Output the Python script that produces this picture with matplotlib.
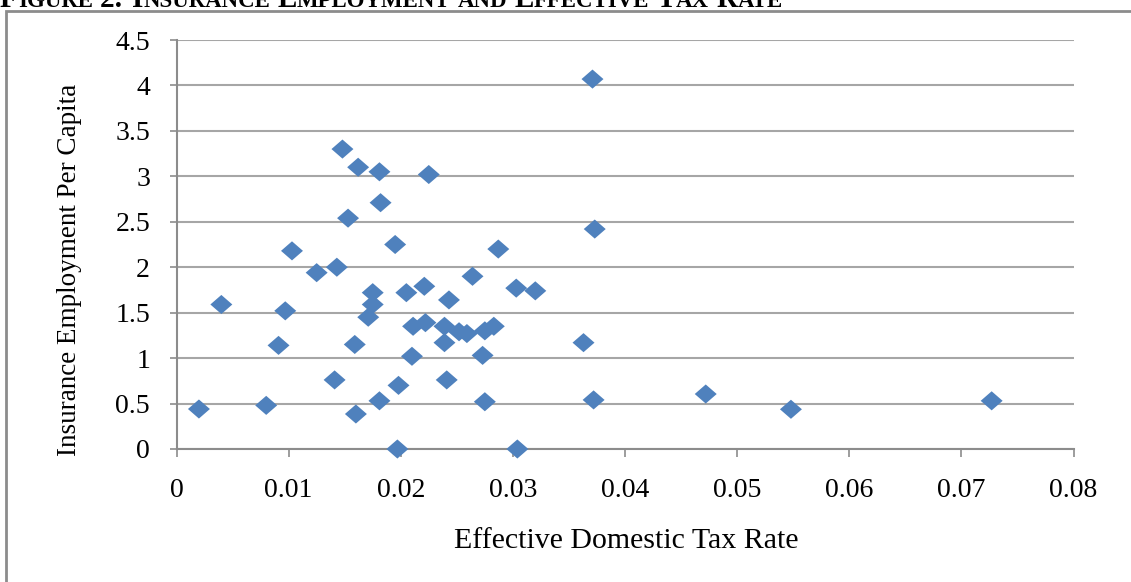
import matplotlib
matplotlib.use("Agg")
import matplotlib.pyplot as plt
from matplotlib.patches import Rectangle

# Data
tax_rate = [0.0020, 0.0040, 0.0080, 0.0091, 0.0097, 0.0103, 0.0125, 0.0143, 0.0141, 0.0148,
            0.0153, 0.0162, 0.0159, 0.0160, 0.0171, 0.0175, 0.0175, 0.0181, 0.0182, 0.0181,
            0.0195, 0.0198, 0.0197, 0.0205, 0.0210, 0.0211, 0.0221, 0.0222, 0.0225, 0.0243,
            0.0239, 0.0239, 0.0241, 0.0252, 0.0259, 0.0264, 0.0273, 0.0275, 0.0275, 0.0283,
            0.0287, 0.0303, 0.0304, 0.0320, 0.0363, 0.0371, 0.0373, 0.0372, 0.0472, 0.0548,
            0.0727]
employment = [0.44, 1.59, 0.48, 1.14, 1.52, 2.18, 1.94, 2.00, 0.76, 3.30,
              2.54, 3.10, 1.15, 0.385, 1.45, 1.59, 1.72, 3.05, 2.71, 0.53,
              2.25, 0.70, 0.00, 1.72, 1.02, 1.35, 1.79, 1.39, 3.02, 1.64,
              1.35, 1.17, 0.76, 1.29, 1.27, 1.90, 1.03, 1.30, 0.52, 1.35,
              2.20, 1.77, 0.00, 1.74, 1.17, 4.07, 2.42, 0.54, 0.605, 0.437,
              0.53]

x_ticks = [0, 0.01, 0.02, 0.03, 0.04, 0.05, 0.06, 0.07, 0.08]
x_tick_labels = ["0", "0.01", "0.02", "0.03", "0.04", "0.05", "0.06", "0.07", "0.08"]
y_ticks = [0, 0.5, 1, 1.5, 2, 2.5, 3, 3.5, 4, 4.5]
y_tick_labels = ["0", "0.5", "1", "1.5", "2", "2.5", "3", "3.5", "4", "4.5"]

title = "Figure 2: Insurance Employment and Effective Tax Rate"
x_label = "Effective Domestic Tax Rate"
y_label = "Insurance Employment Per Capita"

W, H = 1131, 582
fig = plt.figure(figsize=(W / 100, H / 100), dpi=100)
serif = ["Liberation Serif", "DejaVu Serif"]

# outer border (extends past the right and bottom edges)
fig.patches.append(Rectangle((6 / W, -0.05), 1.2, 1 - 11 / H + 0.05, transform=fig.transFigure,
                             fill=False, edgecolor="#8c8c8c", linewidth=2.0, clip_on=False))

# title in small caps (cut off at the top of the image, as in the reference)
renderer = fig.canvas.get_renderer()
big, small = 21.0, 16.5
x_px = 0.0
y_base = 1 - 7 / H
for word_i, word in enumerate(title.split(" ")):
    pieces = []
    if word_i > 0:
        pieces.append((" ", big))
    for ch in word:
        size = small if ch.islower() else big
        if pieces and pieces[-1][1] == size and pieces[-1][0] != " ":
            pieces[-1] = (pieces[-1][0] + ch.upper(), size)
        else:
            pieces.append((ch.upper(), size))
    for txt, size in pieces:
        t = fig.text(x_px / W, y_base, txt, fontsize=size, fontweight="bold", family=serif,
                     ha="left", va="baseline")
        if txt == " ":
            x_px += size * 100 / 72 * 0.25
        else:
            x_px += t.get_window_extent(renderer).width

left, right = 176.5 / W, 1073.5 / W
bottom, top = 1 - 449 / H, 1 - 40 / H
ax = fig.add_axes([left, bottom, right - left, top - bottom])

diamond = [(-1.15, 0), (0, 1), (1.15, 0), (0, -1), (-1.15, 0)]
ax.scatter(tax_rate, employment, marker=diamond, s=250, color="#4f81bd",
           edgecolors="none", zorder=3, clip_on=False)

ax.set_xlim(0, 0.08)
ax.set_ylim(0, 4.5)
ax.set_xticks(x_ticks)
ax.set_xticklabels(x_tick_labels)
ax.set_yticks(y_ticks)
ax.set_yticklabels(y_tick_labels)

ax.grid(axis="y", color="#a6a6a6", linewidth=1.5)
ax.set_axisbelow(True)
for s in ["top", "right"]:
    ax.spines[s].set_visible(False)
for s in ["left", "bottom"]:
    ax.spines[s].set_color("#8c8c8c")
    ax.spines[s].set_linewidth(1.5)

ax.tick_params(axis="x", direction="out", length=6, width=1.2, color="#8c8c8c",
               pad=15, labelsize=20)
ax.tick_params(axis="y", direction="out", length=5, width=1.2, color="#8c8c8c",
               pad=14, labelsize=20)
for lab in ax.get_xticklabels() + ax.get_yticklabels():
    lab.set_family(serif)

fig.text(626 / W, 1 - 541 / H, x_label, fontsize=21.5, family=serif, ha="center", va="center")
fig.text(70 / W, 1 - 270 / H, y_label, fontsize=19.5, family=serif, ha="center", va="center",
         rotation=90)

fig.savefig("out.png", dpi=100)
